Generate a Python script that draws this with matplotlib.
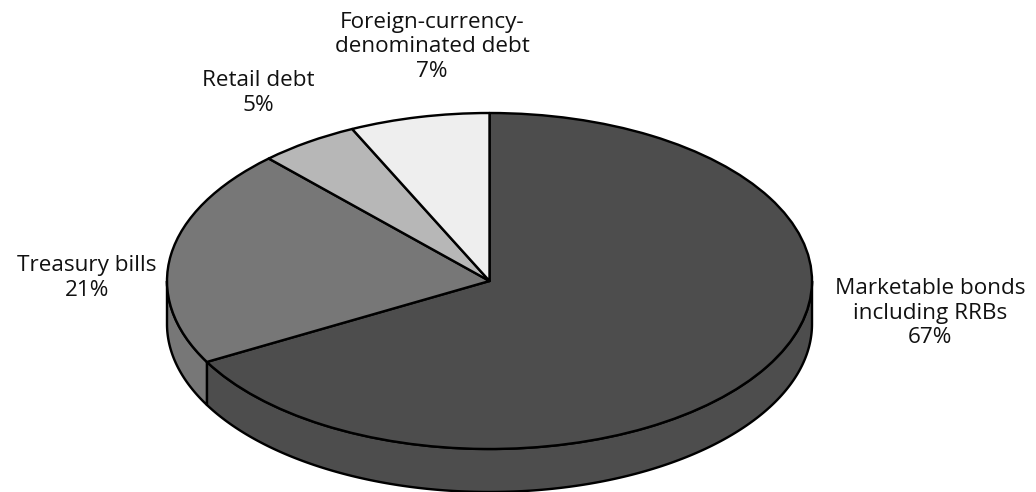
import numpy as np
import matplotlib
matplotlib.use("Agg")
import matplotlib.pyplot as plt
from matplotlib.patches import Polygon

categories = ["Marketable bonds\nincluding RRBs", "Treasury bills", "Retail debt",
              "Foreign-currency-\ndenominated debt"]
shares = [67, 21, 5, 7]
colours = ["#4d4d4d", "#777777", "#b7b7b7", "#eeeeee"]

W, H = 1036, 492
CX, CY, RX, RY = 489.5, 281.0, 322.5, 168.0
DEPTH = 43.0 / RY
EDGE = 2.4 * 72 / 100

plt.rcParams["font.family"] = ["Open Sans", "DejaVu Sans"]

fig = plt.figure(figsize=(W / 100, H / 100), dpi=100, facecolor="white")
ax = fig.add_axes([0, 0, 1, 1])

# Top face: a unit pie stretched by the axes limits into an ellipse
ax.pie(shares, colors=colours, startangle=90, counterclock=False, radius=1,
       wedgeprops=dict(edgecolor="black", linewidth=EDGE, joinstyle="round", zorder=3))
ax.set_aspect("auto")
ax.set_xlim(-CX / RX, (W - CX) / RX)
ax.set_ylim((CY - H) / RY, CY / RY)
ax.axis("off")

# Rim: the front-facing part of each slice, extruded downwards
ends = 90 - 360 * np.cumsum(shares) / np.sum(shares)
starts = np.r_[90, ends[:-1]]
for a1, a0, colour in zip(starts, ends, colours):
    lo, hi = np.mod(a0, 360), np.mod(a1, 360)
    if hi <= lo:
        hi += 360
    lo, hi = max(lo, 180), min(hi, 360)
    if hi <= lo:
        continue
    t = np.radians(np.linspace(lo, hi, 200))
    x, y = np.cos(t), np.sin(t)
    rim = np.r_[np.c_[x, y], np.c_[x[::-1], y[::-1] - DEPTH]]
    ax.add_patch(Polygon(rim, closed=True, facecolor=colour, edgecolor="black",
                         linewidth=EDGE, joinstyle="round", zorder=2))

# Slice captions, placed by their centre in pixels
label_pos = [(930, 313), (87, 278), (258, 93), (432, 47)]
for name, share, (px, py) in zip(categories, shares, label_pos):
    fig.text(px / W, 1 - py / H, f"{name}\n{share}%", ha="center", va="center",
             ma="center", fontsize=16.2, linespacing=1.2, color="#111111")

fig.savefig("out.png", dpi=100)
